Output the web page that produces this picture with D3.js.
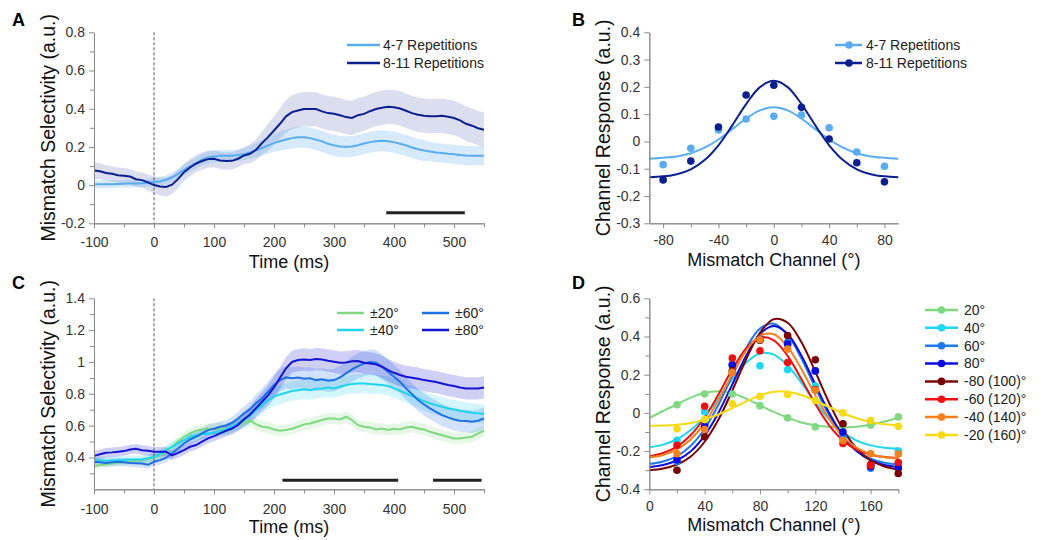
<!DOCTYPE html>
<html>
<head>
<meta charset="utf-8">
<script src="https://cdn.jsdelivr.net/npm/d3@7"></script>
<style>
  body { margin: 0; background: #fff; }
  svg { display: block; font-family: "Liberation Sans", Arial, sans-serif; }
</style>
</head>
<body>
<div id="fig"></div>
<script>
// ---- data: panels A and C (time courses, mean and sem) ----
const timeMs = [-100,-90,-80,-70,-60,-50,-40,-30,-20,-10,0,10,20,30,40,50,60,70,80,90,100,110,120,130,140,150,160,170,180,190,200,210,220,230,240,250,260,270,280,290,300,310,320,330,340,350,360,370,380,390,400,410,420,430,440,450,460,470,480,490,500,510,520,530,540,550];

const rep47Mean = [0.005,0.004,0.004,0.005,0.006,0.007,0.008,0.009,0.01,0.013,0.016,0.019,0.028,0.04,0.059,0.08,0.098,0.115,0.133,0.145,0.15,0.154,0.154,0.154,0.157,0.162,0.171,0.181,0.194,0.208,0.22,0.23,0.239,0.246,0.25,0.25,0.246,0.237,0.229,0.216,0.208,0.202,0.201,0.202,0.209,0.218,0.225,0.23,0.232,0.23,0.225,0.216,0.208,0.197,0.188,0.181,0.176,0.171,0.168,0.164,0.161,0.157,0.155,0.154,0.154,0.154];
const rep47Sem = [0.02,0.02,0.02,0.02,0.02,0.02,0.02,0.02,0.02,0.02,0.02,0.022,0.024,0.025,0.026,0.027,0.03,0.03,0.03,0.03,0.03,0.03,0.03,0.03,0.03,0.03,0.035,0.038,0.04,0.043,0.045,0.05,0.052,0.055,0.055,0.055,0.055,0.055,0.055,0.055,0.055,0.055,0.055,0.055,0.055,0.055,0.055,0.055,0.055,0.055,0.055,0.055,0.055,0.055,0.055,0.055,0.05,0.05,0.05,0.05,0.05,0.05,0.05,0.05,0.05,0.05];
const rep811Mean = [0.077,0.072,0.063,0.059,0.052,0.049,0.045,0.031,0.026,0.014,0.0,-0.007,-0.01,0.002,0.031,0.068,0.092,0.112,0.126,0.136,0.138,0.129,0.126,0.127,0.138,0.155,0.164,0.185,0.22,0.251,0.286,0.321,0.36,0.382,0.391,0.398,0.398,0.398,0.386,0.377,0.373,0.366,0.356,0.352,0.366,0.373,0.387,0.398,0.405,0.41,0.408,0.401,0.389,0.377,0.368,0.363,0.361,0.361,0.363,0.358,0.351,0.339,0.321,0.311,0.298,0.29];
const rep811Sem = [0.045,0.042,0.04,0.04,0.04,0.04,0.04,0.04,0.04,0.042,0.045,0.048,0.05,0.05,0.048,0.045,0.045,0.045,0.045,0.045,0.045,0.045,0.045,0.045,0.045,0.045,0.05,0.055,0.06,0.07,0.075,0.08,0.085,0.09,0.09,0.09,0.09,0.09,0.09,0.09,0.09,0.09,0.09,0.09,0.09,0.09,0.09,0.09,0.09,0.09,0.09,0.09,0.09,0.09,0.09,0.09,0.09,0.09,0.09,0.09,0.09,0.09,0.09,0.09,0.09,0.09];

const deg20Mean = [0.345,0.352,0.358,0.362,0.366,0.37,0.375,0.379,0.383,0.39,0.4,0.415,0.436,0.467,0.499,0.53,0.551,0.568,0.576,0.58,0.58,0.582,0.576,0.589,0.603,0.618,0.631,0.61,0.593,0.589,0.576,0.568,0.572,0.58,0.593,0.608,0.614,0.624,0.635,0.645,0.645,0.639,0.656,0.635,0.603,0.593,0.589,0.576,0.582,0.572,0.58,0.576,0.589,0.593,0.582,0.576,0.561,0.551,0.54,0.53,0.519,0.519,0.526,0.53,0.551,0.568];
const deg20Sem = [0.02,0.02,0.02,0.02,0.02,0.02,0.02,0.02,0.02,0.022,0.025,0.028,0.03,0.032,0.035,0.035,0.035,0.035,0.035,0.035,0.035,0.035,0.035,0.035,0.035,0.035,0.035,0.035,0.035,0.035,0.035,0.035,0.035,0.035,0.035,0.035,0.035,0.035,0.035,0.035,0.035,0.035,0.035,0.035,0.035,0.035,0.035,0.035,0.035,0.035,0.035,0.035,0.035,0.035,0.035,0.035,0.035,0.035,0.035,0.035,0.035,0.035,0.035,0.035,0.035,0.035];
const deg40Mean = [0.383,0.381,0.379,0.381,0.383,0.385,0.387,0.387,0.387,0.395,0.404,0.421,0.446,0.467,0.488,0.509,0.53,0.54,0.547,0.551,0.555,0.564,0.576,0.593,0.614,0.635,0.662,0.698,0.729,0.757,0.782,0.796,0.807,0.817,0.823,0.828,0.823,0.832,0.834,0.84,0.834,0.844,0.855,0.861,0.865,0.865,0.861,0.859,0.855,0.849,0.834,0.819,0.803,0.786,0.771,0.754,0.74,0.729,0.719,0.708,0.702,0.693,0.687,0.681,0.677,0.673];
const deg40Sem = [0.025,0.025,0.025,0.025,0.025,0.025,0.025,0.025,0.025,0.025,0.025,0.027,0.028,0.03,0.03,0.03,0.03,0.03,0.03,0.03,0.03,0.032,0.034,0.036,0.04,0.044,0.048,0.052,0.055,0.058,0.06,0.06,0.06,0.06,0.06,0.06,0.06,0.06,0.06,0.06,0.06,0.06,0.06,0.06,0.06,0.06,0.06,0.06,0.06,0.06,0.06,0.06,0.06,0.06,0.06,0.06,0.06,0.06,0.06,0.06,0.06,0.06,0.06,0.06,0.06,0.06];
const deg60Mean = [0.373,0.37,0.366,0.37,0.373,0.37,0.366,0.364,0.362,0.354,0.373,0.383,0.398,0.425,0.457,0.488,0.513,0.53,0.551,0.572,0.58,0.593,0.601,0.618,0.645,0.677,0.702,0.74,0.771,0.813,0.855,0.886,0.903,0.897,0.903,0.895,0.897,0.886,0.891,0.882,0.886,0.903,0.928,0.953,0.974,0.991,1.0,0.995,0.97,0.939,0.907,0.876,0.834,0.798,0.761,0.733,0.708,0.687,0.666,0.652,0.639,0.631,0.629,0.624,0.631,0.645];
const deg60Sem = [0.025,0.025,0.025,0.025,0.025,0.025,0.025,0.025,0.025,0.025,0.025,0.027,0.028,0.03,0.03,0.03,0.032,0.033,0.034,0.035,0.035,0.035,0.035,0.037,0.04,0.045,0.05,0.055,0.06,0.065,0.07,0.07,0.07,0.07,0.07,0.07,0.07,0.07,0.07,0.07,0.07,0.072,0.075,0.078,0.08,0.08,0.08,0.08,0.08,0.078,0.075,0.072,0.07,0.07,0.07,0.07,0.07,0.07,0.07,0.07,0.07,0.07,0.07,0.07,0.07,0.07];
const deg80Mean = [0.41,0.42,0.429,0.432,0.436,0.44,0.45,0.455,0.446,0.442,0.436,0.436,0.436,0.413,0.429,0.446,0.467,0.478,0.499,0.52,0.534,0.551,0.568,0.582,0.605,0.64,0.67,0.71,0.75,0.79,0.84,0.9,0.96,1.0,1.012,1.016,1.012,1.018,1.016,1.008,1.002,0.995,0.997,1.004,1.006,0.995,0.991,0.985,0.97,0.949,0.932,0.918,0.907,0.901,0.895,0.886,0.88,0.874,0.865,0.855,0.849,0.84,0.834,0.834,0.834,0.84];
const deg80Sem = [0.03,0.03,0.03,0.03,0.03,0.03,0.03,0.03,0.03,0.03,0.03,0.03,0.03,0.03,0.03,0.03,0.03,0.03,0.03,0.03,0.032,0.034,0.036,0.038,0.04,0.045,0.05,0.055,0.06,0.065,0.068,0.07,0.07,0.07,0.07,0.07,0.07,0.07,0.07,0.07,0.07,0.07,0.07,0.07,0.07,0.07,0.07,0.07,0.07,0.07,0.07,0.07,0.07,0.07,0.07,0.07,0.07,0.07,0.07,0.07,0.07,0.07,0.07,0.07,0.07,0.07];

const sigBarsA = [[387, 518]];
const sigBarsC = [[214, 407], [465, 546]];

// ---- data: panel B (channel responses and fits) ----
const channelsB = [-80, -60, -40, -20, 0, 20, 40, 60, 80];
const rep47Dots = [-0.085, -0.025, 0.042, 0.082, 0.092, 0.097, 0.05, -0.039, -0.091];
const rep811Dots = [-0.141, -0.072, 0.053, 0.17, 0.206, 0.125, 0.009, -0.078, -0.148];
const fitXB = [-90,-80,-70,-60,-50,-40,-30,-20,-10,0,10,20,30,40,50,60,70,80,90];
const rep47Fit = [-0.063,-0.06,-0.055,-0.043,-0.023,0.007,0.045,0.084,0.114,0.125,0.114,0.084,0.045,0.007,-0.023,-0.043,-0.055,-0.06,-0.063];
const rep811Fit = [-0.131,-0.128,-0.12,-0.102,-0.068,-0.014,0.059,0.137,0.199,0.222,0.199,0.137,0.059,-0.014,-0.068,-0.102,-0.12,-0.128,-0.131];

// ---- data: panel D ----
const channelsD = [20, 40, 60, 80, 100, 120, 140, 160, 180];
const fitXD = [0,10,20,30,40,50,60,70,80,90,100,110,120,130,140,150,160,170,180];
const labelsD = ["20°", "40°", "60°", "80°", "-80 (100)°", "-60 (120)°", "-40 (140)°", "-20 (160)°"];
const colorsD = ["#80d880", "#1ed6f0", "#1e78ee", "#0c0ce0", "#7a0000", "#ee1010", "#f8801e", "#f6da14"];
const dotsD = [
  [0.043, 0.099, 0.099, 0.038, -0.026, -0.073, -0.068, -0.064, -0.021],
  [-0.143, 0.006, 0.215, 0.247, 0.226, 0.14, -0.13, -0.28, -0.2],
  [-0.255, -0.06, 0.255, 0.38, 0.37, 0.22, -0.12, -0.29, -0.28],
  [-0.245, -0.07, 0.25, 0.385, 0.36, 0.22, -0.1, -0.28, -0.29],
  [-0.3, -0.125, 0.22, 0.38, 0.405, 0.278, -0.057, -0.27, -0.317],
  [-0.169, 0.035, 0.287, 0.325, 0.264, 0.122, -0.16, -0.275, -0.26],
  [-0.214, -0.087, 0.212, 0.383, 0.334, 0.118, -0.144, -0.214, -0.215],
  [-0.083, -0.035, 0.047, 0.087, 0.096, 0.065, 0.0, -0.04, -0.07]
];
const fitsD = [
  [-0.027,0.01,0.045,0.08,0.105,0.113,0.103,0.075,0.04,0.005,-0.025,-0.05,-0.065,-0.073,-0.075,-0.072,-0.062,-0.045,-0.025],
  [-0.18,-0.166,-0.138,-0.09,-0.018,0.076,0.177,0.263,0.311,0.305,0.248,0.157,0.056,-0.034,-0.102,-0.145,-0.17,-0.182,-0.187],
  [-0.267,-0.254,-0.226,-0.172,-0.083,0.043,0.194,0.339,0.441,0.467,0.408,0.284,0.131,-0.012,-0.123,-0.198,-0.24,-0.261,-0.27],
  [-0.284,-0.273,-0.248,-0.201,-0.119,0.001,0.149,0.299,0.413,0.455,0.413,0.299,0.149,0.001,-0.119,-0.201,-0.248,-0.273,-0.284],
  [-0.3,-0.291,-0.27,-0.228,-0.151,-0.035,0.117,0.281,0.419,0.491,0.472,0.37,0.216,0.053,-0.087,-0.187,-0.248,-0.281,-0.296],
  [-0.227,-0.21,-0.177,-0.116,-0.024,0.097,0.228,0.338,0.395,0.38,0.299,0.176,0.046,-0.065,-0.144,-0.193,-0.219,-0.231,-0.236],
  [-0.233,-0.22,-0.191,-0.138,-0.052,0.066,0.202,0.326,0.404,0.412,0.346,0.229,0.093,-0.031,-0.123,-0.183,-0.216,-0.232,-0.238],
  [-0.067,-0.066,-0.062,-0.053,-0.035,-0.008,0.025,0.06,0.092,0.111,0.111,0.094,0.064,0.03,-0.002,-0.028,-0.047,-0.06,-0.066]
];

const colLight = "#5aacf0", colDark = "#0c1f8f";
const colorsC = ["#80d880", "#1ed3ee", "#1f6fe6", "#1414d2"];
const labelsC = ["\u00b120\u00b0", "\u00b140\u00b0", "\u00b160\u00b0", "\u00b180\u00b0"];

const svg = d3.select("#fig").append("svg").attr("width", 1047).attr("height", 540);

function panel(left, top) {
  return svg.append("g").attr("transform", "translate(" + left + "," + top + ")");
}

function drawAxes(g, x, y, w, h, cfg) {
  g.append("g").attr("transform", "translate(0," + h + ")")
    .call(d3.axisBottom(x).tickValues(cfg.xMinor).tickSize(4).tickSizeOuter(0).tickFormat(""));
  g.append("g")
    .call(d3.axisLeft(y).tickValues(cfg.yMinor).tickSize(4).tickSizeOuter(0).tickFormat(""));
  g.append("g").attr("transform", "translate(0," + h + ")")
    .call(d3.axisBottom(x).tickValues(cfg.xTicks).tickSize(5).tickSizeOuter(0).tickPadding(cfg.xPad).tickFormat(String));
  g.append("g")
    .call(d3.axisLeft(y).tickValues(cfg.yTicks).tickSize(5).tickSizeOuter(0).tickPadding(4).tickFormat(String));
  g.selectAll(".domain, .tick line").attr("stroke", "#8a8a8a").attr("stroke-width", 1);
  g.selectAll(".tick text").attr("fill", "#333").style("font-size", "14px")
    .style("font-family", '"Liberation Sans", Arial, sans-serif');
  g.append("text").attr("x", w / 2).attr("y", cfg.xTitleY).attr("text-anchor", "middle")
    .attr("font-size", 18).attr("fill", "#111").text(cfg.xTitle);
  g.append("text").attr("transform", "translate(" + cfg.yTitleX + "," + h / 2 + ") rotate(-90)")
    .attr("text-anchor", "middle").attr("font-size", 19.5).attr("fill", "#111").text(cfg.yTitle);
}

function panelLetter(x, y, s) {
  svg.append("text").attr("x", x).attr("y", y).attr("font-size", 18).attr("font-weight", "bold").text(s);
}

function timeSeries(g, x, y, mean, sem, color, bandOpacity) {
  const rows = timeMs.map((t, i) => ({ t: t, m: mean[i], s: sem[i] }));
  g.append("path").datum(rows)
    .attr("fill", color).attr("fill-opacity", bandOpacity).attr("stroke", "none")
    .attr("d", d3.area().x(d => x(d.t)).y0(d => y(d.m - d.s)).y1(d => y(d.m + d.s)));
  return rows;
}
function seriesLine(g, x, y, rows, color) {
  g.append("path").datum(rows).attr("fill", "none").attr("stroke", color).attr("stroke-width", 2)
    .attr("d", d3.line().x(d => x(d.t)).y(d => y(d.m)));
}

// ---------------- Panel A ----------------
const wT = 390, hT = 191;
const gA = panel(94, 32.3);
const xA = d3.scaleLinear().domain([-100, 550]).range([0, wT]);
const yA = d3.scaleLinear().domain([-0.2, 0.8]).range([hT, 0]);
const rA1 = timeSeries(gA, xA, yA, rep811Mean, rep811Sem, colDark, 0.15);
const rA2 = timeSeries(gA, xA, yA, rep47Mean, rep47Sem, colLight, 0.25);
gA.append("line").attr("x1", xA(0)).attr("x2", xA(0)).attr("y1", 0).attr("y2", hT)
  .attr("stroke", "#555").attr("stroke-dasharray", "3,2").attr("stroke-width", 1);
seriesLine(gA, xA, yA, rA2, colLight);
seriesLine(gA, xA, yA, rA1, colDark);
sigBarsA.forEach(b => gA.append("line").attr("x1", xA(b[0])).attr("x2", xA(b[1]))
  .attr("y1", yA(-0.145)).attr("y2", yA(-0.145)).attr("stroke", "#222").attr("stroke-width", 3));
drawAxes(gA, xA, yA, wT, hT, {
  xTicks: [-100, 0, 100, 200, 300, 400, 500], xMinor: [-50, 50, 150, 250, 350, 450, 550],
  yTicks: [-0.2, 0, 0.2, 0.4, 0.6, 0.8], yMinor: [-0.1, 0.1, 0.3, 0.5, 0.7],
  xPad: 9, xTitle: "Time (ms)", xTitleY: 236, yTitle: "Mismatch Selectivity (a.u.)", yTitleX: -39
});
panelLetter(12, 26, "A");

// legend A
[["4-7 Repetitions", colLight, 45], ["8-11 Repetitions", colDark, 63]].forEach(r => {
  svg.append("line").attr("x1", 347).attr("x2", 380).attr("y1", r[2]).attr("y2", r[2])
    .attr("stroke", r[1]).attr("stroke-width", 2.5);
  svg.append("text").attr("x", 383).attr("y", r[2]).attr("dy", "0.35em").attr("font-size", 14)
    .attr("fill", "#222").text(r[0]);
});

// ---------------- Panel B ----------------
const wC = 249;
const gB = panel(649.3, 32.3);
const xB = d3.scaleLinear().domain([-90, 90]).range([0, wC]);
const yB = d3.scaleLinear().domain([-0.3, 0.4]).range([hT, 0]);
const curve = d3.line().curve(d3.curveCatmullRom).x(d => d[0]).y(d => d[1]);
[[rep47Fit, rep47Dots, colLight], [rep811Fit, rep811Dots, colDark]].forEach(s => {
  gB.append("path").attr("fill", "none").attr("stroke", s[2]).attr("stroke-width", 2)
    .attr("d", curve(fitXB.map((c, i) => [xB(c), yB(s[0][i])])));
  gB.selectAll(null).data(channelsB).enter().append("circle")
    .attr("cx", d => xB(d)).attr("cy", (d, i) => yB(s[1][i])).attr("r", 3.8).attr("fill", s[2]);
});
drawAxes(gB, xB, yB, wC, hT, {
  xTicks: [-80, -40, 0, 40, 80], xMinor: [-60, -20, 20, 60],
  yTicks: [-0.3, -0.2, -0.1, 0, 0.1, 0.2, 0.3, 0.4], yMinor: [],
  xPad: 7, xTitle: "Mismatch Channel (°)", xTitleY: 234, yTitle: "Channel Response (a.u.)", yTitleX: -39
});
panelLetter(572, 26, "B");
[["4-7 Repetitions", colLight, 45], ["8-11 Repetitions", colDark, 63]].forEach(r => {
  svg.append("line").attr("x1", 835).attr("x2", 862).attr("y1", r[2]).attr("y2", r[2])
    .attr("stroke", r[1]).attr("stroke-width", 2.5);
  svg.append("circle").attr("cx", 849).attr("cy", r[2]).attr("r", 3.8).attr("fill", r[1]);
  svg.append("text").attr("x", 866).attr("y", r[2]).attr("dy", "0.35em").attr("font-size", 14)
    .attr("fill", "#222").text(r[0]);
});

// ---------------- Panel C ----------------
const gC = panel(94, 298.3);
const xC = d3.scaleLinear().domain([-100, 550]).range([0, wT]);
const yC = d3.scaleLinear().domain([0.2, 1.4]).range([hT, 0]);
const seriesC = [[deg20Mean, deg20Sem], [deg40Mean, deg40Sem], [deg60Mean, deg60Sem], [deg80Mean, deg80Sem]];
const rowsC = seriesC.map((s, i) => timeSeries(gC, xC, yC, s[0], s[1], colorsC[i], 0.2));
gC.append("line").attr("x1", xC(0)).attr("x2", xC(0)).attr("y1", 0).attr("y2", hT)
  .attr("stroke", "#555").attr("stroke-dasharray", "3,2").attr("stroke-width", 1);
rowsC.forEach((r, i) => seriesLine(gC, xC, yC, r, colorsC[i]));
sigBarsC.forEach(b => gC.append("line").attr("x1", xC(b[0])).attr("x2", xC(b[1]))
  .attr("y1", yC(0.257)).attr("y2", yC(0.257)).attr("stroke", "#222").attr("stroke-width", 3));
drawAxes(gC, xC, yC, wT, hT, {
  xTicks: [-100, 0, 100, 200, 300, 400, 500], xMinor: [-50, 50, 150, 250, 350, 450, 550],
  yTicks: [0.4, 0.6, 0.8, 1, 1.2, 1.4], yMinor: [0.3, 0.5, 0.7, 0.9, 1.1, 1.3],
  xPad: 10, xTitle: "Time (ms)", xTitleY: 235, yTitle: "Mismatch Selectivity (a.u.)", yTitleX: -39
});
panelLetter(12, 289, "C");
const legCx = [337, 422], legCy = [313, 330];
labelsC.forEach((lab, i) => {
  const cx = legCx[Math.floor(i / 2)], cy = legCy[i % 2];
  svg.append("line").attr("x1", cx).attr("x2", cx + 27).attr("y1", cy).attr("y2", cy)
    .attr("stroke", colorsC[i]).attr("stroke-width", 2.5);
  svg.append("text").attr("x", cx + 33).attr("y", cy).attr("dy", "0.35em").attr("font-size", 14)
    .attr("fill", "#222").text(lab);
});

// ---------------- Panel D ----------------
const gD = panel(649.3, 298.3);
const xD = d3.scaleLinear().domain([0, 180]).range([0, wC]);
const yD = d3.scaleLinear().domain([-0.4, 0.6]).range([hT, 0]);
fitsD.forEach((f, k) => {
  gD.append("path").attr("fill", "none").attr("stroke", colorsD[k]).attr("stroke-width", 2)
    .attr("d", curve(fitXD.map((c, i) => [xD(c), yD(f[i])])));
});
dotsD.forEach((dots, k) => {
  gD.selectAll(null).data(channelsD).enter().append("circle")
    .attr("cx", d => xD(d)).attr("cy", (d, i) => yD(dots[i])).attr("r", 3.8).attr("fill", colorsD[k]);
});
drawAxes(gD, xD, yD, wC, hT, {
  xTicks: [0, 40, 80, 120, 160], xMinor: [20, 60, 100, 140, 180],
  yTicks: [-0.4, -0.2, 0, 0.2, 0.4, 0.6], yMinor: [-0.3, -0.1, 0.1, 0.3, 0.5],
  xPad: 7, xTitle: "Mismatch Channel (°)", xTitleY: 233, yTitle: "Channel Response (a.u.)", yTitleX: -39
});
panelLetter(572, 289, "D");
labelsD.forEach((lab, i) => {
  const ly = 310 + i * 17.85;
  svg.append("line").attr("x1", 925).attr("x2", 958).attr("y1", ly).attr("y2", ly)
    .attr("stroke", colorsD[i]).attr("stroke-width", 2.5);
  svg.append("circle").attr("cx", 941.5).attr("cy", ly).attr("r", 3.8).attr("fill", colorsD[i]);
  svg.append("text").attr("x", 964).attr("y", ly).attr("dy", "0.35em").attr("font-size", 14)
    .attr("fill", "#222").text(lab);
});
</script>
</body>
</html>
